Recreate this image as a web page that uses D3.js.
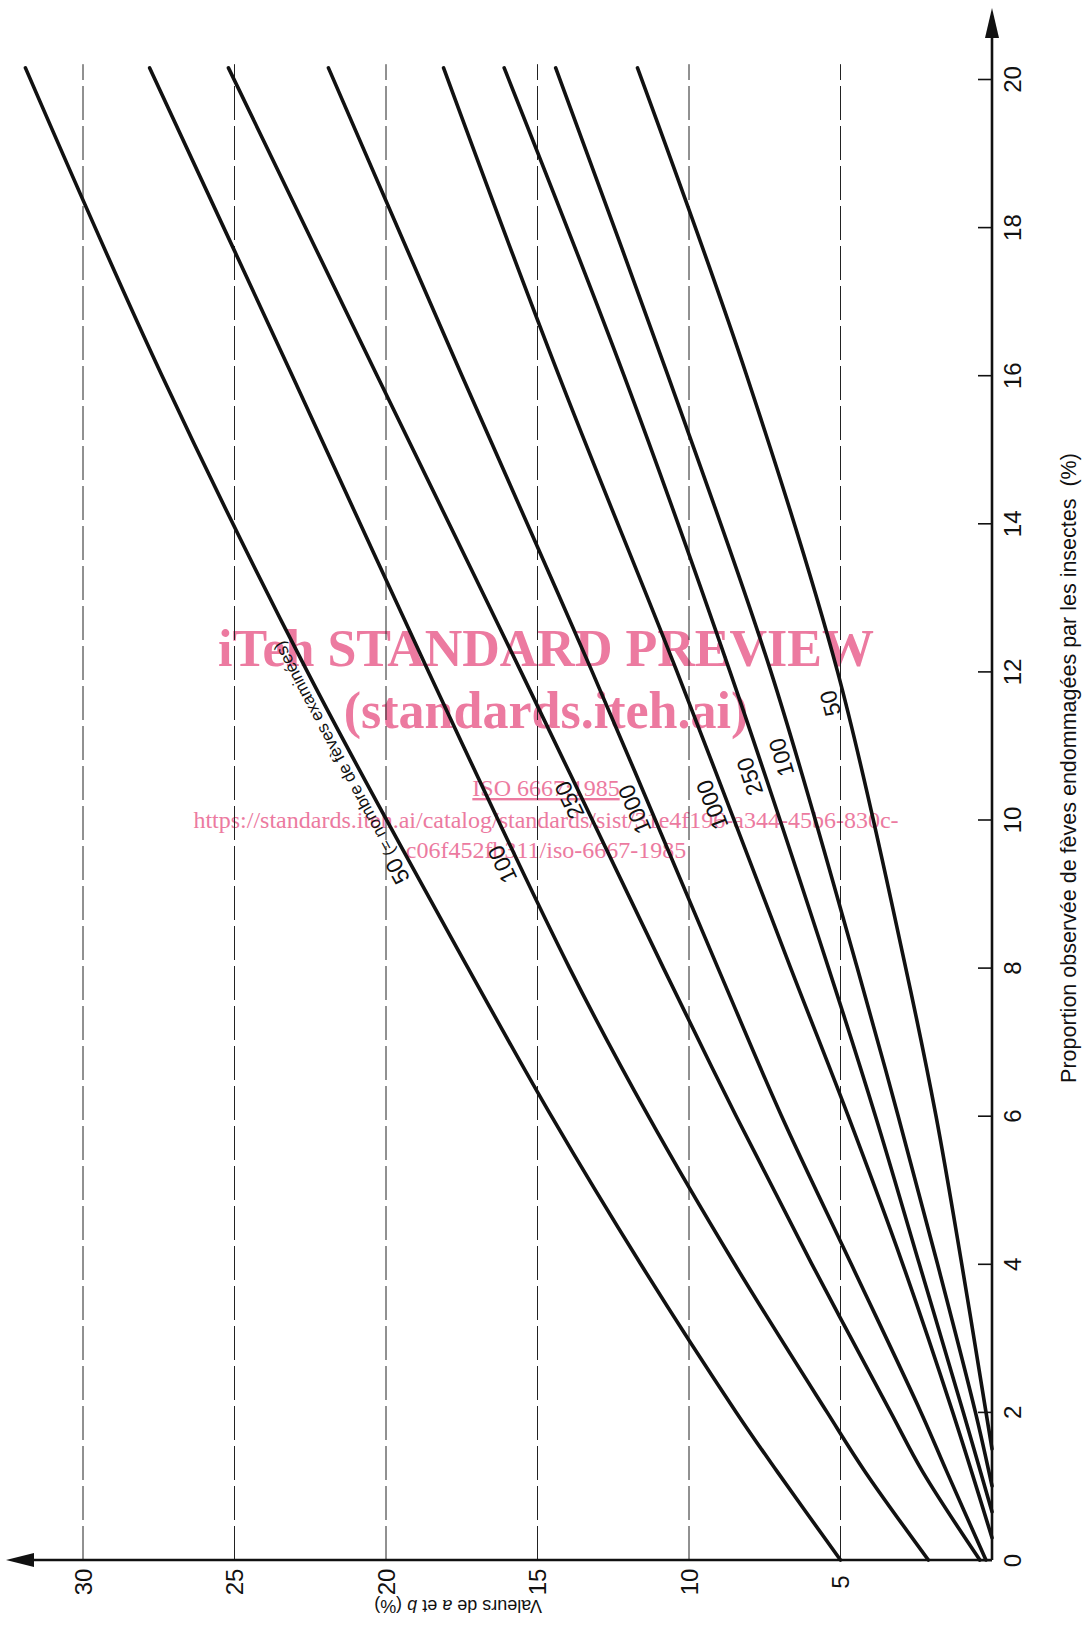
<!DOCTYPE html>
<html>
<head>
<meta charset="utf-8">
<script src="https://cdn.jsdelivr.net/npm/d3@7"></script>
<style>
    body { margin: 0; background: #fff; }
    svg text { font-family: "Liberation Sans Narrow", "Liberation Sans", Arial, sans-serif; fill: #111; }
    .wm { font-family: "Liberation Serif", "Times New Roman", serif; fill: #ec7aa0; }
</style>
</head>
<body>
<div id="chart"></div>
<script>
// proportion observée (%) - runs up the right edge of the page
const pTicks = [0, 2, 4, 6, 8, 10, 12, 14, 16, 18, 20];
// valeurs de a et b (%) - runs to the left along the bottom
const vTicks = [5, 10, 15, 20, 25, 30];

// each curve: [proportion observée, valeur de a ou b]
const upper50 = [[0, 5.0], [1.2, 7.1], [2, 8.45], [4, 11.6], [6, 14.55], [8, 17.3], [12, 22.6], [16, 27.4], [20.15, 31.9]];
const upper100 = [[0, 2.1], [1.2, 4.2], [2, 5.45], [4, 8.5], [6, 11.35], [8, 13.95], [12, 18.6], [16, 23.1], [20.15, 27.8]];
const upper250 = [[0, 0.4], [1.2, 2.3], [2, 3.35], [4, 5.95], [6, 8.45], [8, 10.85], [12, 15.55], [16, 20.3], [20.15, 25.2]];
const upper1000 = [[0, 0.2], [1.2, 1.5], [2, 2.35], [4, 4.65], [6, 6.95], [8, 9.05], [12, 13.2], [16, 17.5], [20.15, 21.9]];
const lower1000 = [[0.3, 0], [2, 1.3], [4, 2.95], [6, 4.75], [8, 6.65], [12, 10.4], [16, 14.3], [20.15, 18.1]];
const lower250 = [[0.65, 0], [2, 0.95], [4, 2.4], [6, 3.85], [8, 5.4], [12, 8.65], [16, 12.15], [20.15, 16.1]];
const lower100 = [[1.0, 0], [2, 0.55], [4, 1.8], [6, 3.1], [8, 4.45], [12, 7.3], [16, 10.7], [20.15, 14.4]];
const lower50 = [[1.5, 0], [2, 0.2], [4, 1.0], [6, 1.85], [8, 2.85], [12, 5.1], [16, 8.1], [20.15, 11.7]];

const curves = [upper50, upper100, upper250, upper1000, lower1000, lower250, lower100, lower50];
const curveLabels = ["50", "100", "250", "1000", "1000", "250", "100", "50"];

const width = 1084, height = 1643;

const svg = d3.select("#chart").append("svg")
    .attr("width", width)
    .attr("height", height);

// page is turned a quarter turn: p goes up, a/b goes left
const y = d3.scaleLinear().domain([0, 20]).range([1560, 79]);
const x = d3.scaleLinear().domain([0, 30]).range([992, 83]);

// watermark of the preview (drawn first so the lines stay black)
const wm = svg.append("g").attr("class", "wm-group");
wm.append("text").attr("class", "wm")
    .attr("x", 546).attr("y", 666)
    .attr("text-anchor", "middle")
    .style("font-size", "52px").style("font-weight", "bold")
    .text("iTeh STANDARD PREVIEW");
wm.append("text").attr("class", "wm")
    .attr("x", 546).attr("y", 728)
    .attr("text-anchor", "middle")
    .style("font-size", "52px").style("font-weight", "bold")
    .text("(standards.iteh.ai)");
wm.append("text").attr("class", "wm")
    .attr("x", 546).attr("y", 796)
    .attr("text-anchor", "middle")
    .style("font-size", "24px")
    .style("text-decoration", "underline")
    .text("ISO 6667:1985");
wm.append("text").attr("class", "wm")
    .attr("x", 546).attr("y", 828)
    .attr("text-anchor", "middle")
    .style("font-size", "24px")
    .text("https://standards.iteh.ai/catalog/standards/sist/31e4f196-a344-45b6-830c-");
wm.append("text").attr("class", "wm")
    .attr("x", 546).attr("y", 858)
    .attr("text-anchor", "middle")
    .style("font-size", "24px")
    .text("c06f452fb311/iso-6667-1985");

// dashed grid lines at the a/b values
svg.append("g").selectAll("line")
    .data(vTicks)
    .enter().append("line")
    .attr("x1", d => x(d)).attr("x2", d => x(d))
    .attr("y1", y(0)).attr("y2", y(20.2))
    .attr("stroke", "#222")
    .attr("stroke-width", 1)
    .attr("stroke-dasharray", "34,6");

// p axis (right) with ticks pointing inward
const pAxis = svg.append("g")
    .attr("transform", `translate(${x(0)},0)`)
    .call(d3.axisRight(y).tickValues(pTicks).tickSize(-14).tickFormat(d3.format("d")));
pAxis.select(".domain").remove();
pAxis.selectAll(".tick line").attr("stroke", "#111").attr("stroke-width", 1.6);
pAxis.selectAll(".tick text")
    .attr("x", 0).attr("y", 0).attr("dy", "0.35em")
    .attr("text-anchor", "middle")
    .attr("transform", "translate(21,0) rotate(-90)")
    .style("font-size", "24px");

// a/b axis (bottom), labels only
const vAxis = svg.append("g")
    .attr("transform", `translate(0,${y(0)})`)
    .call(d3.axisBottom(x).tickValues(vTicks).tickSize(0).tickFormat(d3.format("d")));
vAxis.select(".domain").remove();
vAxis.selectAll(".tick text")
    .attr("x", 0).attr("y", 0).attr("dy", "0.35em")
    .attr("text-anchor", "middle")
    .attr("transform", "translate(0,22) rotate(-90)")
    .style("font-size", "24px");

// axis lines with arrow heads
svg.append("line")
    .attr("x1", x(0)).attr("x2", 20)
    .attr("y1", y(0)).attr("y2", y(0))
    .attr("stroke", "#111").attr("stroke-width", 2.6);
svg.append("path")
    .attr("d", `M6,${y(0)} L34,${y(0) - 7} L34,${y(0) + 7} Z`)
    .attr("fill", "#111");
svg.append("line")
    .attr("x1", x(0)).attr("x2", x(0))
    .attr("y1", y(0)).attr("y2", 24)
    .attr("stroke", "#111").attr("stroke-width", 2.6);
svg.append("path")
    .attr("d", `M${x(0)},8 L${x(0) - 7},38 L${x(0) + 7},38 Z`)
    .attr("fill", "#111");

// curves
const line = d3.line()
    .x(d => x(d[1]))
    .y(d => y(d[0]))
    .curve(d3.curveCatmullRom.alpha(0.5));

const curveGroup = svg.append("g").attr("class", "curves");
curveGroup.selectAll("path")
    .data(curves)
    .enter().append("path")
    .attr("id", (d, i) => "curve" + i)
    .attr("d", line)
    .attr("fill", "none")
    .attr("stroke", "#111")
    .attr("stroke-width", 3.6)
    .attr("stroke-linecap", "round");

// find how far along a path we reach a given p
function lengthAtP(node, p) {
    let target = y(p);
    let lo = 0, hi = node.getTotalLength();
    for (let i = 0; i < 30; i++) {
        let mid = (lo + hi) / 2;
        if (node.getPointAtLength(mid).y > target) lo = mid; else hi = mid;
    }
    return lo;
}

// labels sit along each curve, on its left side
const labelStart = [9.25, 9.25, 10.1, 9.9, 9.95, 10.4, 10.65, 11.45];
curveGroup.selectAll("path").each(function (d, i) {
    let off = lengthAtP(this, labelStart[i]);
    let t = svg.append("text")
        .append("textPath")
        .attr("href", "#curve" + i)
        .attr("startOffset", off);
    t.append("tspan")
        .attr("dy", i === 2 ? -4 : -7)
        .style("font-size", "23px")
        .text(curveLabels[i]);
    if (i === 0) {
        t.append("tspan")
            .style("font-size", "17px")
            .text(" (= nombre de fèves examinées)");
    }
});

// axis titles
svg.append("text")
    .attr("transform", "translate(1068,768) rotate(-90)")
    .attr("text-anchor", "middle")
    .attr("dy", "0.35em")
    .style("font-size", "21.5px")
    .style("font-family", "'Liberation Sans', Arial, sans-serif")
    .text("Proportion observée de fèves endommagées par les insectes\u00a0\u00a0(%)");

let vTitle = svg.append("text")
    .attr("transform", "translate(458,1606) rotate(180)")
    .attr("text-anchor", "middle")
    .attr("dy", "0.35em")
    .style("font-size", "18px")
    .style("font-family", "'Liberation Sans', Arial, sans-serif");
vTitle.append("tspan").text("Valeurs de ");
vTitle.append("tspan").style("font-style", "italic").text("a");
vTitle.append("tspan").text(" et ");
vTitle.append("tspan").style("font-style", "italic").text("b");
vTitle.append("tspan").text(" (%)");
</script>
</body>
</html>
